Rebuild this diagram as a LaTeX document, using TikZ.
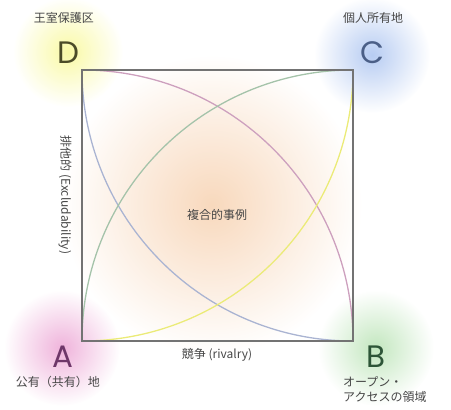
\documentclass[tikz,border=0pt]{standalone}
\usepackage{fontspec}
\setmainfont{Noto Sans CJK JP}
\newfontfamily\letterfont{Poppins}
\usetikzlibrary{fadings}
\tikzfading[name=glowfade, inner color=transparent!0, outer color=transparent!100]
\definecolor{glowD}{RGB}{248,248,150}
\definecolor{glowC}{RGB}{170,195,240}
\definecolor{glowA}{RGB}{235,160,210}
\definecolor{glowB}{RGB}{180,225,175}
\definecolor{glowM}{RGB}{245,200,160}
\definecolor{linePink}{RGB}{205,160,190}
\definecolor{lineBlue}{RGB}{170,180,210}
\definecolor{lineGreen}{RGB}{165,195,170}
\definecolor{lineYellow}{RGB}{235,235,120}
\definecolor{frameGray}{RGB}{115,115,115}
\definecolor{labelGray}{RGB}{70,70,70}
\definecolor{letD}{RGB}{75,75,40}
\definecolor{letC}{RGB}{75,95,135}
\definecolor{letA}{RGB}{110,55,105}
\definecolor{letB}{RGB}{45,85,55}
\tikzset{
  glow/.style={path fading=glowfade},
  arcline/.style={line width=1.3pt},
  frame/.style={draw=frameGray, line width=1.4pt},
  corner/.style={font=\letterfont\fontsize{31}{31}\selectfont, inner sep=0pt, text height=21pt, text depth=0pt},
  jlabel/.style={font=\fontsize{12}{15}\selectfont, text=labelGray, inner sep=0pt},
}
\begin{document}
\begin{tikzpicture}[x=1pt,y=1pt]
\useasboundingbox (0,0) rectangle (451,410);
% glows
\fill[glowM, glow, opacity=0.7] (212,205) circle (150);
\fill[glowD, glow, opacity=0.85] (68,358) circle (55);
\fill[glowC, glow, opacity=0.85] (372,355) circle (58);
\fill[glowA, glow, opacity=0.8] (62,62) circle (58);
\fill[glowB, glow, opacity=0.8] (376,62) circle (58);
% corners
\coordinate (A) at (82,69);
\coordinate (B) at (353,69);
\coordinate (C) at (353,340);
\coordinate (D) at (82,340);
% arcs
\draw[arcline, linePink] (D) arc[start angle=90, end angle=0, radius=271pt];
\draw[arcline, lineBlue] (D) arc[start angle=180, end angle=270, radius=271pt];
\draw[arcline, lineGreen] (A) arc[start angle=180, end angle=90, radius=271pt];
\draw[arcline, lineYellow] (A) arc[start angle=270, end angle=360, radius=271pt];
% frame
\draw[frame] (A) rectangle (C);
% letters
\node[corner, text=letD] (lD) at (68,357) {D};
\node[corner, text=letC] (lC) at (372,357) {C};
\node[corner, text=letA] (lA) at (63,53) {A};
\node[corner, text=letB] (lB) at (376,53) {B};
% labels
\node[jlabel] (tD) at (64,392) {王室保護区};
\node[jlabel] (tC) at (373,392) {個人所有地};
\node[jlabel] (tA) at (58,28) {公有（共有）地};
\node[jlabel, anchor=west, align=left] (tB) at (343,20.5) {オープン・\\アクセスの領域};
\node[jlabel] (tM) at (217,195) {複合的事例};
\node[jlabel, rotate=-90] (tY) at (65,215) {排他的 (Excludability)};
\node[jlabel] (tX) at (217,55) {競争 (rivalry)};
\end{tikzpicture}
\end{document}
